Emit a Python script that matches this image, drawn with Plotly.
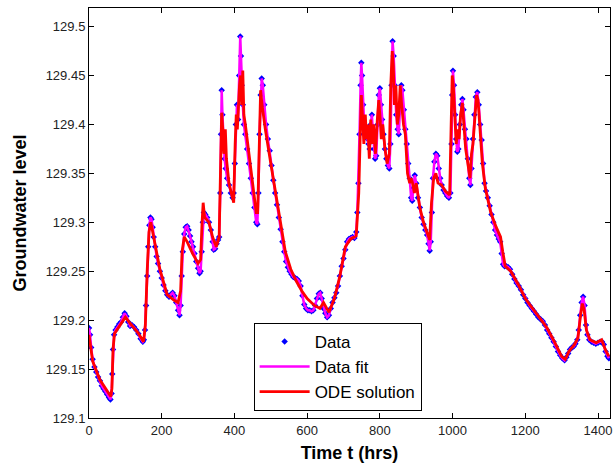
import plotly.graph_objects as go

t_data = [0,3,6,10,15,20,25,30,35,40,45,50,55,59,62,64,66,69,73,78,83,88,93,98,103,108,113,118,124,130,136,142,148,151,154,157,160,163,166,169,172,175,178,182,186,190,195,200,205,210,215,220,225,230,235,240,245,249,252,255,258,262,266,270,274,278,282,286,290,295,300,304,307,310,313,316,320,325,330,335,340,343,347,351,355,358,361,363,365,367,370,373,376,380,385,390,395,398,401,404,407,410,413,416,418,420,423,426,430,435,440,445,450,455,460,463,466,469,472,475,478,482,487,492,497,502,507,512,517,522,527,532,537,542,547,552,557,562,567,572,577,582,587,592,597,602,607,612,617,622,627,632,636,640,645,650,655,660,665,670,675,680,685,690,695,700,705,710,715,720,725,730,735,738,741,744,747,749,751,754,757,760,763,766,769,772,775,778,781,784,787,790,794,797,800,803,806,810,814,818,822,826,829,832,835,838,841,845,849,852,856,859,862,866,870,874,878,882,886,889,892,896,900,905,910,915,920,925,930,934,937,940,943,946,950,954,958,962,966,970,975,980,985,990,994,997,999,1001,1004,1007,1010,1013,1016,1020,1024,1027,1030,1034,1038,1042,1046,1049,1052,1056,1060,1064,1068,1072,1076,1080,1084,1088,1092,1097,1102,1107,1112,1117,1122,1127,1131,1135,1139,1143,1148,1153,1158,1164,1170,1176,1182,1188,1194,1200,1206,1212,1218,1224,1230,1236,1242,1248,1254,1260,1266,1272,1278,1284,1290,1296,1302,1308,1313,1318,1323,1328,1333,1338,1343,1347,1351,1355,1359,1363,1367,1371,1376,1382,1388,1394,1400,1406,1411,1416,1421,1426,1430]
y_data = [129.192,129.185,129.172,129.160,129.152,129.147,129.142,129.138,129.133,129.130,129.127,129.124,129.121,129.119,129.125,129.145,129.170,129.185,129.190,129.193,129.196,129.198,129.203,129.207,129.204,129.198,129.194,129.195,129.193,129.190,129.186,129.181,129.178,129.180,129.190,129.215,129.245,129.275,129.297,129.305,129.303,129.295,129.285,129.275,129.265,129.258,129.250,129.243,129.236,129.230,129.226,129.224,129.226,129.228,129.225,129.218,129.210,129.205,129.215,129.245,129.270,129.288,129.295,129.296,129.292,129.286,129.280,129.275,129.268,129.260,129.253,129.248,129.250,129.270,129.300,129.310,129.308,129.305,129.300,129.292,129.280,129.272,129.273,129.278,129.282,129.285,129.330,129.390,129.435,129.410,129.385,129.365,129.355,129.345,129.338,129.330,129.325,129.330,129.360,129.400,129.420,129.405,129.450,129.490,129.470,129.440,129.420,129.400,129.390,129.375,129.360,129.345,129.330,129.315,129.300,129.298,129.330,129.390,129.430,129.447,129.440,129.420,129.400,129.385,129.373,129.358,129.343,129.330,129.318,129.305,129.293,129.280,129.270,129.260,129.254,129.250,129.247,129.244,129.243,129.242,129.240,129.235,129.225,129.216,129.212,129.210,129.210,129.209,129.210,129.215,129.222,129.227,129.228,129.222,129.212,129.207,129.203,129.205,129.212,129.218,129.223,129.228,129.235,129.245,129.255,129.263,129.272,129.280,129.283,129.284,129.285,129.284,129.290,129.310,129.340,129.390,129.440,129.463,129.450,129.420,129.400,129.390,129.395,129.385,129.380,129.375,129.400,129.410,129.390,129.375,129.365,129.368,129.400,129.430,129.437,129.420,129.405,129.390,129.375,129.365,129.358,129.355,129.380,129.440,129.485,129.470,129.440,129.410,129.395,129.390,129.420,129.440,129.435,129.415,129.395,129.380,129.360,129.345,129.325,129.322,129.335,129.348,129.340,129.325,129.315,129.305,129.298,129.292,129.287,129.278,129.271,129.280,129.310,129.345,129.362,129.370,129.368,129.355,129.345,129.338,129.333,129.330,129.327,129.325,129.330,129.380,129.430,129.455,129.440,129.410,129.385,129.372,129.375,129.400,129.420,129.426,129.415,129.395,129.385,129.365,129.345,129.338,129.355,129.385,129.410,129.428,129.433,129.420,129.400,129.384,129.360,129.340,129.332,129.325,129.317,129.308,129.300,129.292,129.287,129.283,129.280,129.268,129.257,129.255,129.255,129.254,129.252,129.247,129.242,129.238,129.235,129.231,129.226,129.222,129.218,129.215,129.212,129.209,129.206,129.203,129.201,129.199,129.195,129.190,129.186,129.182,129.178,129.173,129.168,129.164,129.161,129.159,129.162,129.166,129.170,129.172,129.173,129.176,129.180,129.190,129.205,129.218,129.224,129.215,129.195,129.185,129.180,129.178,129.177,129.176,129.177,129.178,129.178,129.175,129.168,129.163,129.161]

t_ode = [0,10,30,50,60,63,66,70,85,100,115,135,150,155,160,165,170,180,195,215,235,245,252,256,262,270,285,300,307,311,314,318,330,340,350,358,362,365,368,371,375,378,385,392,398,402,405,408,411,414,417,420,423,426,430,440,450,460,464,468,472,476,485,500,520,540,555,570,585,600,620,635,645,660,675,690,705,720,735,742,746,749,752,756,760,763,767,771,775,779,783,788,793,797,800,804,808,814,820,826,830,834,837,840,844,848,852,856,860,865,870,876,882,886,890,895,900,910,920,930,937,942,948,954,960,970,980,992,995,999,1002,1006,1010,1014,1018,1022,1027,1031,1036,1042,1048,1052,1056,1060,1066,1070,1076,1082,1090,1105,1120,1132,1138,1145,1160,1180,1200,1220,1240,1260,1280,1300,1310,1320,1335,1345,1352,1357,1362,1368,1378,1395,1410,1420,1430]
y_ode = [129.185,129.158,129.139,129.127,129.122,129.130,129.170,129.186,129.195,129.203,129.196,129.187,129.178,129.195,129.250,129.290,129.300,129.280,129.252,129.226,129.220,129.218,129.230,129.270,129.285,129.280,129.268,129.258,129.262,129.300,129.320,129.305,129.300,129.285,129.275,129.285,129.360,129.412,129.395,129.370,129.395,129.365,129.340,129.330,129.320,129.380,129.410,129.395,129.420,129.440,129.450,129.420,129.455,129.410,129.400,129.370,129.340,129.310,129.310,129.380,129.435,129.420,129.395,129.360,129.315,129.270,129.252,129.240,129.230,129.222,129.215,129.212,129.218,129.208,129.222,129.245,129.275,129.283,129.286,129.330,129.390,129.430,129.410,129.380,129.410,129.385,129.400,129.365,129.405,129.380,129.400,129.370,129.405,129.425,129.410,129.385,129.400,129.375,129.360,129.370,129.440,129.475,129.460,129.420,129.440,129.400,129.410,129.440,129.420,129.400,129.390,129.350,129.340,129.345,129.340,129.330,129.340,129.315,129.300,129.290,129.282,129.320,129.345,129.350,129.340,129.338,129.332,129.328,129.380,129.450,129.440,129.400,129.380,129.395,129.385,129.410,129.422,129.400,129.375,129.360,129.345,129.370,129.380,129.400,129.430,129.425,129.395,129.360,129.335,129.310,129.295,129.285,129.270,129.255,129.250,129.237,129.222,129.212,129.202,129.192,129.178,129.163,129.160,129.168,129.175,129.182,129.205,129.217,129.210,129.190,129.180,129.177,129.180,129.170,129.163]

y_tickvals = [129.1,129.15,129.2,129.25,129.3,129.35,129.4,129.45,129.5]
y_ticktext = ["129.1","129.15","129.2","129.25","129.3","129.35","129.4","129.45","129.5"]
x_tickvals = [0,200,400,600,800,1000,1200,1400]

fig = go.Figure()
fig.add_trace(go.Scatter(x=t_data, y=y_data, mode="markers", name="Data",
                         marker=dict(symbol="diamond", size=5, color="#0000ff")))
fig.add_trace(go.Scatter(x=t_data, y=y_data, mode="lines", name="Data fit",
                         line=dict(color="#ff00ff", width=2.5)))
fig.add_trace(go.Scatter(x=t_ode, y=y_ode, mode="lines", name="ODE solution",
                         line=dict(color="#ff0000", width=2.8)))

axis_common = dict(showgrid=False, zeroline=False, showline=True, linecolor="black",
                   linewidth=1, mirror="ticks", ticks="inside", ticklen=5,
                   tickcolor="black", automargin=False,
                   tickfont=dict(family="Arial, Liberation Sans", size=13, color="#222"))
fig.update_xaxes(range=[0, 1433], tickvals=x_tickvals,
                 title=dict(text="<b>Time t (hrs)</b>", font=dict(family="Arial, Liberation Sans", size=18, color="black"), standoff=9),
                 **axis_common)
fig.update_yaxes(range=[129.1, 129.519], tickvals=y_tickvals, ticktext=y_ticktext,
                 title=dict(text="<b>Groundwater level</b>", font=dict(family="Arial, Liberation Sans", size=18, color="black"), standoff=14),
                 **axis_common)

fig.update_layout(
    width=616, height=467,
    margin=dict(l=89, r=6, t=8, b=49),
    plot_bgcolor="white", paper_bgcolor="white",
    legend=dict(x=0.316, y=0.232, xanchor="left", yanchor="top",
                bgcolor="white", bordercolor="black", borderwidth=1,
                font=dict(family="Arial, Liberation Sans", size=17, color="black"),
                tracegroupgap=0, itemwidth=50),
    showlegend=True,
)

fig.write_html("out.html", config={"displayModeBar": False},
               post_script="document.body.style.margin='0';document.body.style.overflow='hidden';")
